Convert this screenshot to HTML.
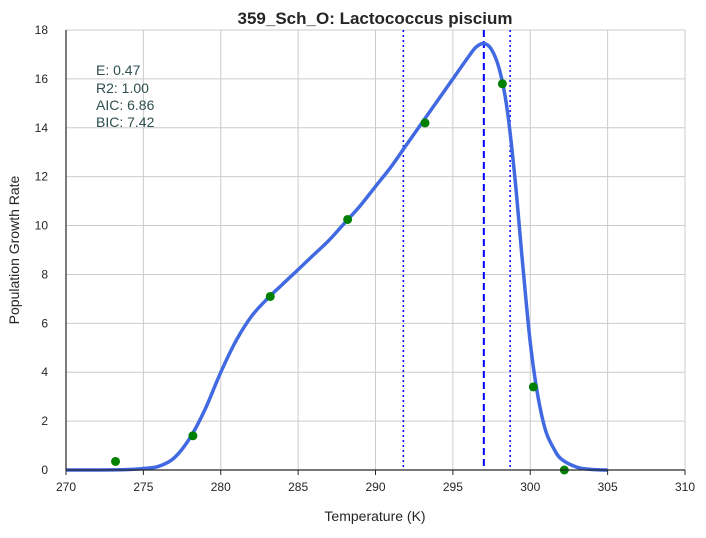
<!DOCTYPE html>
<html><head><meta charset="utf-8"><style>
body{margin:0;background:#fff;font-family:"Liberation Sans",Arial,sans-serif;}
</style></head><body>
<svg id="chart" width="706" height="533" xmlns="http://www.w3.org/2000/svg" font-family="Liberation Sans, Arial, sans-serif">
<text x="375" y="24" text-anchor="middle" font-size="17" font-weight="bold" fill="#262626">359_Sch_O: Lactococcus piscium</text>
<g id="grid"></g><g id="marks"></g><g id="axes"></g>
<text x="375" y="521" text-anchor="middle" font-size="14" fill="#262626">Temperature (K)</text>
<text transform="translate(19,250) rotate(-90)" text-anchor="middle" font-size="14" fill="#262626">Population Growth Rate</text>
<g font-size="14" fill="#2f4f4f" style="white-space:pre">
<text x="96" y="75">E:  0.47</text><text x="96" y="93">R2:  1.00</text><text x="96" y="110">AIC: 6.86</text><text x="96" y="127">BIC: 7.42</text>
</g>
</svg>
<script>
const xTicks=[270,275,280,285,290,295,300,305,310];
const yTicks=[0,2,4,6,8,10,12,14,16,18];
const obsT=[273.2,278.2,283.2,288.2,293.2,298.2,300.2,302.2];
const obsR=[0.35,1.4,7.1,10.25,14.2,15.8,3.4,0];
const fitT=[270,272,274,275,276,277,278,279,280,281,282,283,284,285,286,287,288,289,290,291,292,293,294,295,296,296.5,297,297.5,298,298.5,299,299.5,300,300.5,301,301.5,302,303,304,305];
const fitR=[0,0,0.02,0.06,0.15,0.5,1.3,2.5,4.0,5.3,6.3,7.0,7.6,8.2,8.8,9.4,10.1,10.8,11.6,12.4,13.3,14.2,15.1,16.0,16.9,17.3,17.45,17.2,16.4,14.8,12.0,8.5,5.2,3.0,1.6,0.9,0.45,0.12,0.02,0];
const peakT=[297];
const boundT=[291.8,298.7];
const X=v=>66+(v-270)*(685-66)/40, Y=v=>470-v*440/18;
const NS="http://www.w3.org/2000/svg";
function mk(p,t,a){const e=document.createElementNS(NS,t);for(const k in a)e.setAttribute(k,a[k]);p.appendChild(e);return e;}
const grid=document.getElementById('grid'),marks=document.getElementById('marks'),axes=document.getElementById('axes');
xTicks.forEach(t=>{
 const g=mk(grid,'line',{x1:X(t),x2:X(t),y1:30,y2:470,stroke:'#cccccc','stroke-width':1});
 
 
 mk(axes,'line',{x1:X(t),x2:X(t),y1:470,y2:475,stroke:'#262626'});
 const l=mk(axes,'text',{x:X(t),y:491,'text-anchor':'middle','font-size':12,fill:'#262626'});l.textContent=t;
 
 
});
yTicks.forEach(t=>{
 const g=mk(grid,'line',{x1:66,x2:685,y1:Y(t),y2:Y(t),stroke:'#cccccc','stroke-width':1});
 
 
 const l=mk(axes,'text',{x:48,y:Y(t)+4,'text-anchor':'end','font-size':12,fill:'#262626'});l.textContent=t;
 
 
});
const xa=mk(axes,'line',{x1:66,x2:685,y1:470,y2:470,stroke:'#262626','stroke-width':1.2});


const ya=mk(axes,'line',{x1:66,x2:66,y1:30,y2:470,stroke:'#262626','stroke-width':1.2});


boundT.forEach(t=>{
 const l=mk(marks,'line',{x1:X(t),x2:X(t),y1:30,y2:470,stroke:'#0000ff','stroke-width':1.5,'stroke-dasharray':'2,3'});
 
 
});
peakT.forEach(t=>{
 const l=mk(marks,'line',{x1:X(t),x2:X(t),y1:30,y2:470,stroke:'#0000ff','stroke-width':2,'stroke-dasharray':'7,4'});
 
 
});
const P=fitT.map((t,i)=>[X(t),Y(fitR[i])]);
let d='M'+P[0][0].toFixed(1)+','+P[0][1].toFixed(1);
for(let i=0;i<P.length-1;i++){
 const p0=P[Math.max(0,i-1)],p1=P[i],p2=P[i+1],p3=P[Math.min(P.length-1,i+2)];
 const c1=[p1[0]+(p2[0]-p0[0])/6,p1[1]+(p2[1]-p0[1])/6],c2=[p2[0]-(p3[0]-p1[0])/6,p2[1]-(p3[1]-p1[1])/6];
 d+='C'+c1.map(v=>v.toFixed(1)).join(',')+' '+c2.map(v=>v.toFixed(1)).join(',')+' '+p2.map(v=>v.toFixed(1)).join(',');
}
const fl=mk(marks,'path',{d:d,fill:'none',stroke:'#4169e1','stroke-width':3.5,'stroke-linejoin':'round'});


obsT.forEach((t,i)=>{
 const c=mk(marks,'circle',{cx:X(t),cy:Y(obsR[i]),r:4.5,fill:'#008000'});
 
 
});
</script>
</body></html>
